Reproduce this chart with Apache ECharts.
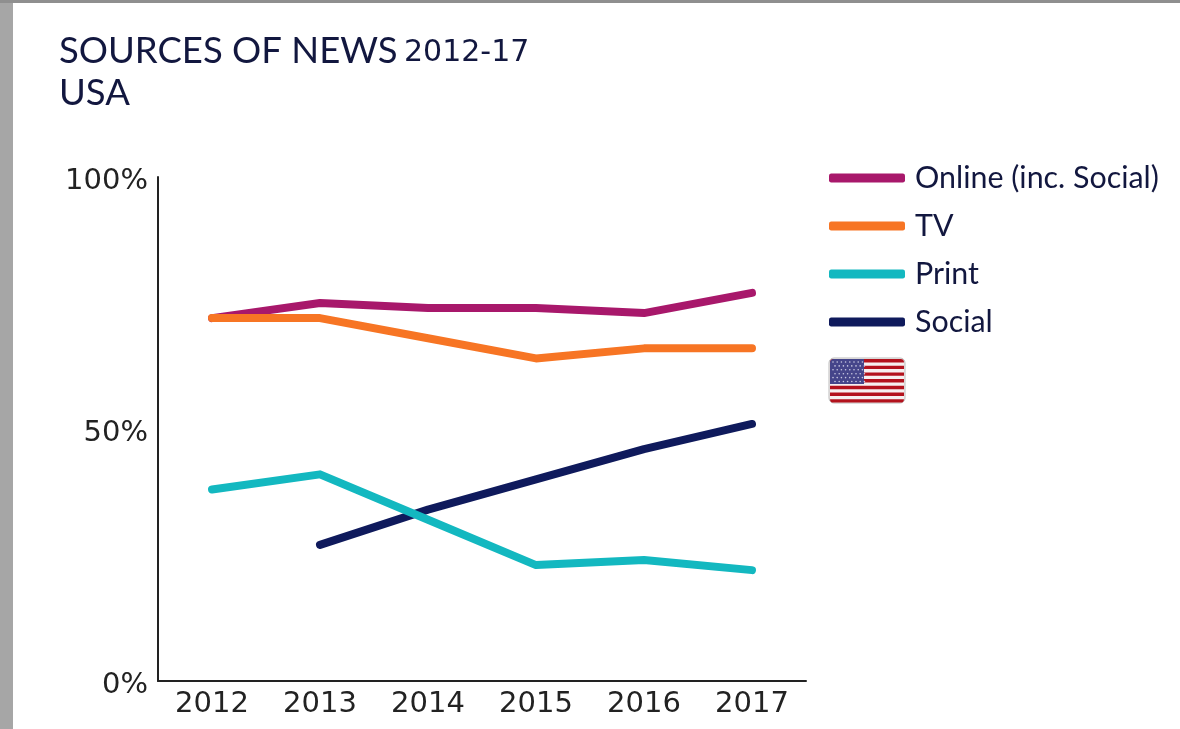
<!DOCTYPE html>
<html><head><meta charset="utf-8">
<style>html,body{margin:0;padding:0;background:#fff}#c{width:1180px;height:729px}</style>
<script src="https://cdn.jsdelivr.net/npm/echarts@6/dist/echarts.min.js"></script></head>
<body><div id="c"></div>
<script>
const years = ['2012','2013','2014','2015','2016','2017'];
const online = [72,75,74,74,73,77];
const tv = [72,72,68,64,66,66];
const print = [38,41,32,23,24,22];
const social = [null,27,34,40,46,51];
const yTicks = [0,50,100];
const navy = '#12173f';
const colors = {online:'#a8186b', tv:'#f77524', print:'#13b8c0', social:'#0f1a5c'};
const tickFont = {color:'#222', fontFamily:'DejaVu Sans', fontSize:29};

function line(name,data,color){
  return {name,type:'line',data,symbol:'none',smooth:false,connectNulls:false,
    lineStyle:{color,width:8,cap:'round',join:'round'},itemStyle:{color},z:name==='Social'?2:3};
}
// flag decoration
const flag=[];
flag.push({type:'rect',shape:{x:829,y:358,width:76,height:45,r:5},style:{fill:'#f6f0f0',stroke:'#bbb',lineWidth:1}});
for(let i=0;i<7;i++){
  const first=i===0, last=i===6;
  flag.push({type:'rect',shape:{x:830,y:359+i*6.7,width:74,height:3.4,r:first?[4,4,0,0]:(last?[0,0,4,4]:0)},style:{fill:'#b3121d'}});
}
flag.push({type:'rect',shape:{x:830,y:359,width:34,height:25,r:[4,0,0,0]},style:{fill:'#45458a'}});
for(let r=0;r<6;r++)for(let k=0;k<8;k++){
  flag.push({type:'circle',shape:{cx:833+k*4.2+(r%2?2:0),cy:362+r*3.9,r:0.8},style:{fill:'#c9c9e2'}});
}
const chart=echarts.init(document.getElementById('c'),null,{renderer:'canvas'});
chart.setOption({
  animation:false,
  backgroundColor:'#fff',
  grid:{left:158,top:177,width:648,height:504,containLabel:false},
  xAxis:{type:'category',data:years,boundaryGap:true,
    axisLine:{lineStyle:{color:'#222',width:2}},axisTick:{show:false},
    axisLabel:{...tickFont,margin:9}},
  yAxis:{type:'value',min:0,max:100,interval:50,
    axisLine:{show:true,lineStyle:{color:'#222',width:2}},axisTick:{show:false},splitLine:{show:false},
    axisLabel:{...tickFont,margin:10,verticalAlign:'top',lineHeight:8,formatter:v=>yTicks.includes(v)?v+'%':''}},
  legend:{left:829,top:161,padding:0,orient:'vertical',itemWidth:76,itemHeight:9,itemGap:14,icon:'roundRect',
    data:['Online (inc. Social)','TV','Print','Social'],
    textStyle:{color:navy,fontFamily:'Lato',fontSize:30.4,padding:[0,0,0,5],lineHeight:34}},
  series:[
    line('Online (inc. Social)',online,colors.online),
    line('TV',tv,colors.tv),
    line('Print',print,colors.print),
    line('Social',social,colors.social)
  ],
  graphic:[
    {type:'rect',z:100,shape:{x:0,y:0,width:13,height:729},style:{fill:'#a6a6a6'}},
    {type:'rect',z:100,shape:{x:0,y:0,width:1180,height:3},style:{fill:'#8f8f8f'}},
    {type:'text',z:100,left:59,top:33,style:{text:'SOURCES OF NEWS',fill:navy,fontFamily:'Lato',fontSize:36.5}},
    {type:'text',z:100,left:404,top:38,style:{text:'2012-17',fill:navy,fontFamily:'DejaVu Sans',fontSize:30}},
    {type:'text',z:100,left:59,top:75,style:{text:'USA',fill:navy,fontFamily:'Lato',fontSize:36.5}},
    {type:'group',z:100,children:flag}
  ]
});
</script></body></html>
